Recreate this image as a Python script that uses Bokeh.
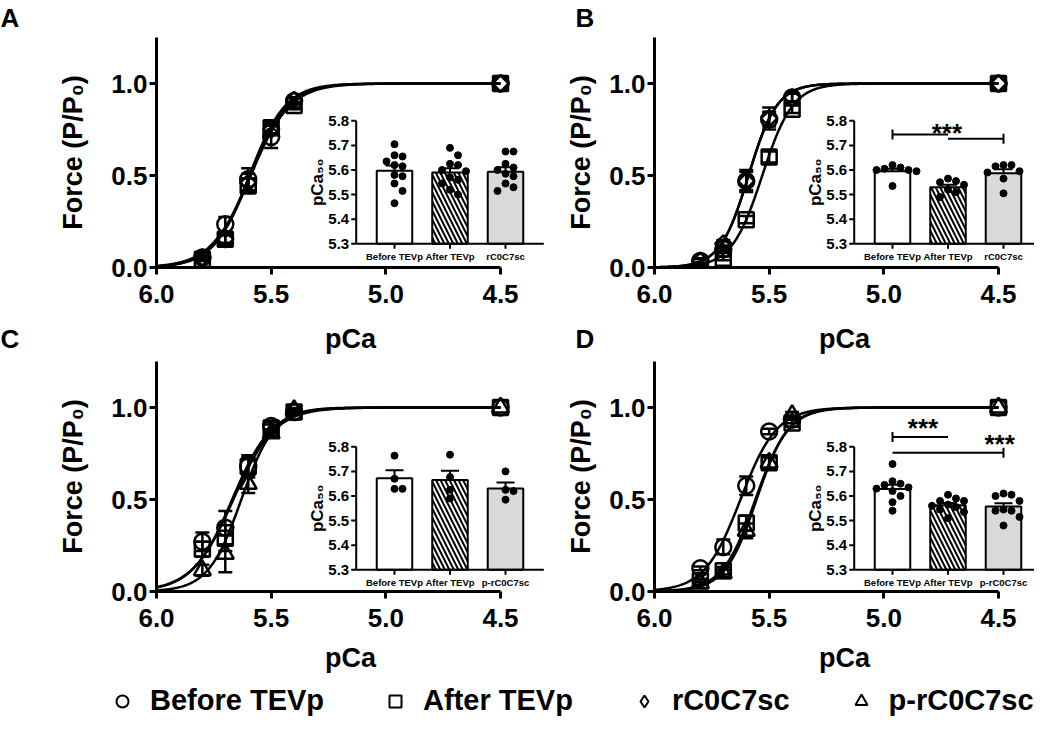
import numpy as np
from bokeh.plotting import figure
from bokeh.models import (Range1d, FixedTicker, PrintfTickFormatter, Whisker, TeeHead,
                          ColumnDataSource, Title, Legend, LegendItem)
from bokeh.layouts import column, row
from bokeh.embed import file_html
from bokeh.resources import INLINE
from bokeh.core.properties import value

FONT = "Liberation Sans"

# ---------------------------------------------------------------- data
pca = [5.8, 5.7, 5.6, 5.5, 5.4, 4.5]
x_ticks = [6.0, 5.5, 5.0, 4.5]
y_ticks = [0.0, 0.5, 1.0]
inset_ticks = [5.3, 5.4, 5.5, 5.6, 5.7, 5.8]
legend_labels = ["Before TEVp", "After TEVp", "rC0C7sc", "p-rC0C7sc"]

# Panel A  (force, SEM, Hill fit)
A_before = [0.054, 0.235, 0.48, 0.71, 0.905, 1.0]
A_before_sem = [0.01, 0.04, 0.06, 0.06, 0.015, 0.0]
A_after = [0.045, 0.154, 0.444, 0.76, 0.88, 1.0]
A_after_sem = [0.01, 0.03, 0.04, 0.03, 0.02, 0.0]
A_rc = [0.054, 0.154, 0.46, 0.75, 0.91, 1.0]
A_rc_sem = [0.01, 0.02, 0.05, 0.03, 0.015, 0.0]
A_fit_pca50 = [5.59, 5.595, 5.59]
A_fit_nh = [5.0, 5.5, 5.3]
A_inset_cats = ["Before TEVp", "After TEVp", "rC0C7sc"]
A_inset_mean = [5.597, 5.590, 5.593]
A_inset_sem = [0.021, 0.017, 0.018]
A_dots_before = [5.705, 5.66, 5.655, 5.635, 5.62, 5.615, 5.58, 5.575, 5.545, 5.515, 5.465]
A_dots_after = [5.69, 5.66, 5.625, 5.62, 5.60, 5.595, 5.57, 5.56, 5.545, 5.52, 5.50]
A_dots_rc = [5.675, 5.675, 5.625, 5.61, 5.60, 5.585, 5.575, 5.545, 5.53, 5.515]

# Panel B
B_before = [0.036, 0.10, 0.47, 0.806, 0.924, 1.0]
B_before_sem = [0.01, 0.02, 0.06, 0.04, 0.02, 0.0]
B_after = [0.01, 0.05, 0.26, 0.60, 0.86, 1.0]
B_after_sem = [0.005, 0.01, 0.02, 0.03, 0.02, 0.0]
B_rc = [0.036, 0.13, 0.47, 0.81, 0.924, 1.0]
B_rc_sem = [0.01, 0.02, 0.05, 0.06, 0.02, 0.0]
B_fit_pca50 = [5.59, 5.53, 5.59]
B_fit_nh = [7.0, 6.5, 7.0]
B_inset_cats = ["Before TEVp", "After TEVp", "rC0C7sc"]
B_inset_mean = [5.595, 5.530, 5.587]
B_inset_sem = [0.010, 0.010, 0.016]
B_dots_before = [5.62, 5.61, 5.605, 5.60, 5.60, 5.595, 5.535]
B_dots_after = [5.565, 5.555, 5.55, 5.54, 5.52, 5.51, 5.49]
B_dots_rc = [5.62, 5.62, 5.615, 5.595, 5.59, 5.565, 5.505]
B_sig_from = [0, 1]
B_sig_to = [1, 2]
B_sig_y = [5.744, 5.727]
B_sig_tick = [0, 2]
B_star_x = [0.98]
B_star_y = [5.775]

# Panel C
C_before = [0.27, 0.347, 0.68, 0.90, 0.975, 1.0]
C_before_sem = [0.05, 0.09, 0.05, 0.02, 0.01, 0.0]
C_after = [0.23, 0.29, 0.68, 0.888, 0.975, 1.0]
C_after_sem = [0.04, 0.07, 0.06, 0.02, 0.01, 0.0]
C_prc = [0.115, 0.205, 0.585, 0.86, 0.987, 1.0]
C_prc_sem = [0.03, 0.10, 0.05, 0.02, 0.01, 0.0]
C_fit_pca50 = [5.67, 5.665, 5.63]
C_fit_nh = [5.0, 4.8, 6.0]
C_inset_cats = ["Before TEVp", "After TEVp", "p-rC0C7sc"]
C_inset_mean = [5.672, 5.665, 5.630]
C_inset_sem = [0.033, 0.038, 0.025]
C_dots_before = [5.764, 5.67, 5.629, 5.629]
C_dots_after = [5.768, 5.677, 5.625, 5.59]
C_dots_prc = [5.70, 5.625, 5.62, 5.585]

# Panel D
D_before = [0.126, 0.242, 0.575, 0.87, 0.934, 1.0]
D_before_sem = [0.01, 0.04, 0.05, 0.015, 0.02, 0.0]
D_after = [0.059, 0.113, 0.372, 0.70, 0.916, 1.0]
D_after_sem = [0.01, 0.02, 0.04, 0.03, 0.02, 0.0]
D_prc = [0.045, 0.10, 0.33, 0.70, 0.96, 1.0]
D_prc_sem = [0.01, 0.02, 0.04, 0.03, 0.015, 0.0]
D_fit_pca50 = [5.625, 5.56, 5.555]
D_fit_nh = [5.5, 6.0, 6.3]
D_inset_cats = ["Before TEVp", "After TEVp", "p-rC0C7sc"]
D_inset_mean = [5.628, 5.562, 5.557]
D_inset_sem = [0.018, 0.010, 0.014]
D_dots_before = [5.73, 5.66, 5.65, 5.645, 5.635, 5.63, 5.62, 5.60, 5.575, 5.54]
D_dots_after = [5.605, 5.59, 5.58, 5.58, 5.565, 5.56, 5.555, 5.545, 5.535, 5.51]
D_dots_prc = [5.61, 5.605, 5.60, 5.58, 5.545, 5.54, 5.54, 5.515, 5.48]
D_sig_from = [0, 0]
D_sig_to = [1, 2]
D_sig_y = [5.84, 5.776]
D_sig_tick = [0, 2]
D_star_x = [0.55, 1.93]
D_star_y = [5.90, 5.834]

# ---------------------------------------------------------------- styles / layout
MARKER_STYLE = {"Before TEVp": ("circle", 16, 0.0), "After TEVp": ("square", 15, 0.0),
                "rC0C7sc": ("square", 11.5, np.pi / 4), "p-rC0C7sc": ("triangle", 17, 0.0)}
LEGEND_MARKER = {"Before TEVp": "circle", "After TEVp": "square",
                 "rC0C7sc": "diamond", "p-rC0C7sc": "triangle"}
BAR_STYLE = [dict(fill_color="white"),
             dict(fill_color="white", hatch_pattern="left_diagonal_line",
                  hatch_color="black", hatch_weight=2, hatch_scale=9),
             dict(fill_color="#d9d9d9")]
MAIN_AXIS_PX = 344.0      # px between 6.0 and 4.5
Y_TOP = 1.25
FRAME_H = 230
INSET_CAT0_PX = 238.0     # frame-relative px of first inset category
INSET_CAT_PX = 55.5       # px per inset category
INSET_UNIT_PX = 246.0     # px per pCa50 unit
INSET_PAD = 0.69          # inset axis padding (category units)
INSET_BAR_W = 0.64


def hill(x, p50, nh):
    return 1.0 / (1.0 + 10.0 ** (nh * (x - p50)))


def swarm(vals, d=8.0):
    placed, offs = [], []
    for v in vals:
        y = v * INSET_UNIT_PX
        cands = [0.0]
        for j in range(1, 30):
            cands += [j * d, -j * d]
        for c in cands:
            if all((c - px) ** 2 + (y - py) ** 2 >= (0.98 * d) ** 2 for px, py in placed):
                break
        placed.append((c, y))
        offs.append(c / INSET_CAT_PX)
    return offs


def bold_text(p, **kw):
    return p.text(text_font=value(FONT), text_font_style="bold", text_color="black", **kw)


def letter_title(txt, off, standoff):
    return Title(text=txt, align="left", offset=off, standoff=standoff, vertical_align="top",
                 text_font=FONT, text_font_size="26px", text_font_style="bold",
                 text_color="black")


def make_panel(fw, bl, br, bt, bb, series, inset, base_px, xt_std, xl_std, lab_std, letters):
    x0, x1 = x_ticks[0], x_ticks[-1]
    x_end = x0 - (x0 - x1) * fw / MAIN_AXIS_PX
    p = figure(frame_width=fw, frame_height=FRAME_H,
               x_range=Range1d(x0, x_end), y_range=Range1d(0, Y_TOP),
               output_backend="svg", toolbar_location=None,
               min_border_left=bl, min_border_right=br, min_border_top=bt, min_border_bottom=bb)
    p.xgrid.visible = False
    p.ygrid.visible = False
    p.outline_line_color = None
    p.background_fill_color = "white"
    p.border_fill_color = "white"

    # main curves, error bars and markers
    cx = np.linspace(x0, x1, 400)
    for name, vals, sems, p50, nh in series:
        p.line(cx, hill(cx, p50, nh), line_color="black", line_width=2.5)
    for name, vals, sems, p50, nh in series:
        idx = [i for i, s in enumerate(sems) if s > 0]
        src = ColumnDataSource(dict(base=[pca[i] for i in idx],
                                    lower=[vals[i] - sems[i] for i in idx],
                                    upper=[vals[i] + sems[i] for i in idx]))
        p.add_layout(Whisker(source=src, base="base", lower="lower", upper="upper",
                             dimension="height", line_width=2.5, line_color="black",
                             upper_head=TeeHead(size=14, line_width=2.5, line_color="black"),
                             lower_head=TeeHead(size=14, line_width=2.5, line_color="black")))
    for name, vals, sems, p50, nh in series:
        mk, sz, ang = MARKER_STYLE[name]
        p.scatter(pca, vals, marker=mk, size=sz, angle=ang, fill_alpha=0,
                  line_color="black", line_width=2.5)

    # main axes
    for ax, ticks in ((p.xaxis, x_ticks), (p.yaxis, y_ticks)):
        ax.ticker = FixedTicker(ticks=ticks)
        ax.formatter = PrintfTickFormatter(format="%.1f")
        ax.axis_line_width = 3
        ax.major_tick_line_width = 3
        ax.major_tick_out = 7
        ax.major_tick_in = 0
        ax.minor_tick_out = 0
        ax.minor_tick_in = 0
        ax.major_label_text_font = FONT
        ax.major_label_text_font_size = "26px"
        ax.major_label_text_font_style = "bold"
        ax.major_label_text_color = "black"
        ax.axis_label_text_font = FONT
        ax.axis_label_text_font_size = "27px"
        ax.axis_label_text_font_style = "bold"
        ax.axis_label_text_color = "black"
    p.xaxis.bounds = (min(x_ticks), max(x_ticks))
    p.xaxis.axis_label = "pCa"
    p.yaxis.axis_label = "Force (P/P\u2080)"
    p.xaxis.major_label_standoff = xt_std
    p.xaxis.axis_label_standoff = xl_std
    p.yaxis.major_label_standoff = 2
    p.yaxis.axis_label_standoff = lab_std

    # inset (pCa50 bar chart) drawn through its own ranges
    cats, means, sems_i, dots, sig = inset
    base = inset_ticks[0]
    p.extra_x_ranges = {"ix": Range1d(-INSET_CAT0_PX / INSET_CAT_PX,
                                      (fw - INSET_CAT0_PX) / INSET_CAT_PX)}
    p.extra_y_ranges = {"iy": Range1d(base - base_px / INSET_UNIT_PX,
                                      base + (FRAME_H - base_px) / INSET_UNIT_PX)}
    kw = dict(x_range_name="ix", y_range_name="iy")
    xs = list(range(len(cats)))
    for i, m in enumerate(means):
        p.vbar(x=[xs[i]], width=INSET_BAR_W, bottom=base, top=[m],
               line_color="black", line_width=2, **BAR_STYLE[i], **kw)
    esrc = ColumnDataSource(dict(base=xs, lower=means,
                                 upper=[m + s for m, s in zip(means, sems_i)]))
    p.add_layout(Whisker(source=esrc, base="base", lower="lower", upper="upper",
                         dimension="height", line_width=2, line_color="black",
                         upper_head=TeeHead(size=18, line_width=2, line_color="black"),
                         lower_head=None, **kw))
    for i, dv in enumerate(dots):
        offs = swarm(dv)
        p.scatter([xs[i] + o for o in offs], dv, size=7, color="black", **kw)
    ax_l = xs[0] - INSET_PAD
    ax_r = xs[-1] + INSET_PAD
    p.segment(x0=[ax_l, ax_l], y0=[base, base], x1=[ax_l, ax_r], y1=[inset_ticks[-1], base],
              line_color="black", line_width=2, **kw)
    p.ray(x=[ax_l] * len(inset_ticks), y=inset_ticks, length=5, angle=np.pi,
          length_units="screen", line_color="black", line_width=2, **kw)
    p.ray(x=xs, y=[base] * len(xs), length=5, angle=-np.pi / 2,
          length_units="screen", line_color="black", line_width=2, **kw)
    bold_text(p, x=[ax_l] * len(inset_ticks), y=inset_ticks,
              text=["%.1f" % t for t in inset_ticks], x_offset=-7,
              text_align="right", text_baseline="middle", text_font_size="15px", **kw)
    bold_text(p, x=xs, y=[base] * len(xs), text=cats, y_offset=7,
              text_align="center", text_baseline="top", text_font_size="9.5px", **kw)
    bold_text(p, x=[ax_l], y=[(inset_ticks[0] + inset_ticks[-1]) / 2], text=["pCa\u2085\u2080"],
              angle=np.pi / 2, x_offset=-39, text_align="center", text_baseline="middle",
              text_font_size="17px", **kw)
    if sig is not None:
        s_from, s_to, s_y, s_tick, st_x, st_y = sig
        p.segment(x0=s_from, y0=s_y, x1=s_to, y1=s_y, line_color="black", line_width=2, **kw)
        p.ray(x=s_tick, y=s_y, length=5, angle=np.pi / 2, length_units="screen",
              line_color="black", line_width=2, **kw)
        p.ray(x=s_tick, y=s_y, length=5, angle=-np.pi / 2, length_units="screen",
              line_color="black", line_width=2, **kw)
        bold_text(p, x=st_x, y=st_y, text=["***"] * len(st_x), y_offset=6,
                  text_align="center", text_baseline="middle", text_font_size="26px", **kw)

    # panel letters (titles in the side panels, so they are not clipped to the frame)
    for txt, place, off, standoff in letters:
        p.add_layout(letter_title(txt, off, standoff), place)
    return p


pA = make_panel(388, 156, 16, 37, 94,
                [("Before TEVp", A_before, A_before_sem, A_fit_pca50[0], A_fit_nh[0]),
                 ("After TEVp", A_after, A_after_sem, A_fit_pca50[1], A_fit_nh[1]),
                 ("rC0C7sc", A_rc, A_rc_sem, A_fit_pca50[2], A_fit_nh[2])],
                (A_inset_cats, A_inset_mean, A_inset_sem,
                 [A_dots_before, A_dots_after, A_dots_rc], None),
                23.7, 10, 18, 20, [("A", "above", -156, 5), ("C", "below", -156, -66)])
pB = make_panel(380, 94, 0, 37, 94,
                [("Before TEVp", B_before, B_before_sem, B_fit_pca50[0], B_fit_nh[0]),
                 ("After TEVp", B_after, B_after_sem, B_fit_pca50[1], B_fit_nh[1]),
                 ("rC0C7sc", B_rc, B_rc_sem, B_fit_pca50[2], B_fit_nh[2])],
                (B_inset_cats, B_inset_mean, B_inset_sem,
                 [B_dots_before, B_dots_after, B_dots_rc],
                 (B_sig_from, B_sig_to, B_sig_y, B_sig_tick, B_star_x, B_star_y)),
                23.7, 10, 18, 10, [("B", "above", -79, 5), ("D", "below", -79, -66)])
pC = make_panel(388, 156, 16, 0, 89,
                [("Before TEVp", C_before, C_before_sem, C_fit_pca50[0], C_fit_nh[0]),
                 ("After TEVp", C_after, C_after_sem, C_fit_pca50[1], C_fit_nh[1]),
                 ("p-rC0C7sc", C_prc, C_prc_sem, C_fit_pca50[2], C_fit_nh[2])],
                (C_inset_cats, C_inset_mean, C_inset_sem,
                 [C_dots_before, C_dots_after, C_dots_prc], None),
                21.7, 10, 13, 20, [])
pD = make_panel(380, 94, 0, 0, 89,
                [("Before TEVp", D_before, D_before_sem, D_fit_pca50[0], D_fit_nh[0]),
                 ("After TEVp", D_after, D_after_sem, D_fit_pca50[1], D_fit_nh[1]),
                 ("p-rC0C7sc", D_prc, D_prc_sem, D_fit_pca50[2], D_fit_nh[2])],
                (D_inset_cats, D_inset_mean, D_inset_sem,
                 [D_dots_before, D_dots_after, D_dots_prc],
                 (D_sig_from, D_sig_to, D_sig_y, D_sig_tick, D_star_x, D_star_y)),
                21.7, 10, 13, 10, [])

# legend strip
lf = figure(width=1034, height=37, x_range=Range1d(0, 1), y_range=Range1d(0, 1),
            output_backend="svg", toolbar_location=None, min_border=0)
lf.axis.visible = False
lf.xgrid.visible = False
lf.ygrid.visible = False
lf.outline_line_color = None
items = []
for name in legend_labels:
    r = lf.scatter(x=[np.nan], y=[np.nan], marker=LEGEND_MARKER[name], size=12, fill_alpha=0,
                   line_color="black", line_width=2)
    items.append(LegendItem(label=name, renderers=[r]))
lg = Legend(items=items, orientation="horizontal", location=(107, 0),
            glyph_width=30, glyph_height=30, label_standoff=13, spacing=56,
            padding=0, margin=0, border_line_color=None, background_fill_alpha=0,
            label_text_font=FONT, label_text_font_size="29px", label_text_font_style="bold",
            label_text_color="black")
lf.add_layout(lg)

layout = column(row(pA, pB), row(pC, pD), lf)
open("out.html", "w").write(file_html(layout, INLINE, title="pCa force curves"))
